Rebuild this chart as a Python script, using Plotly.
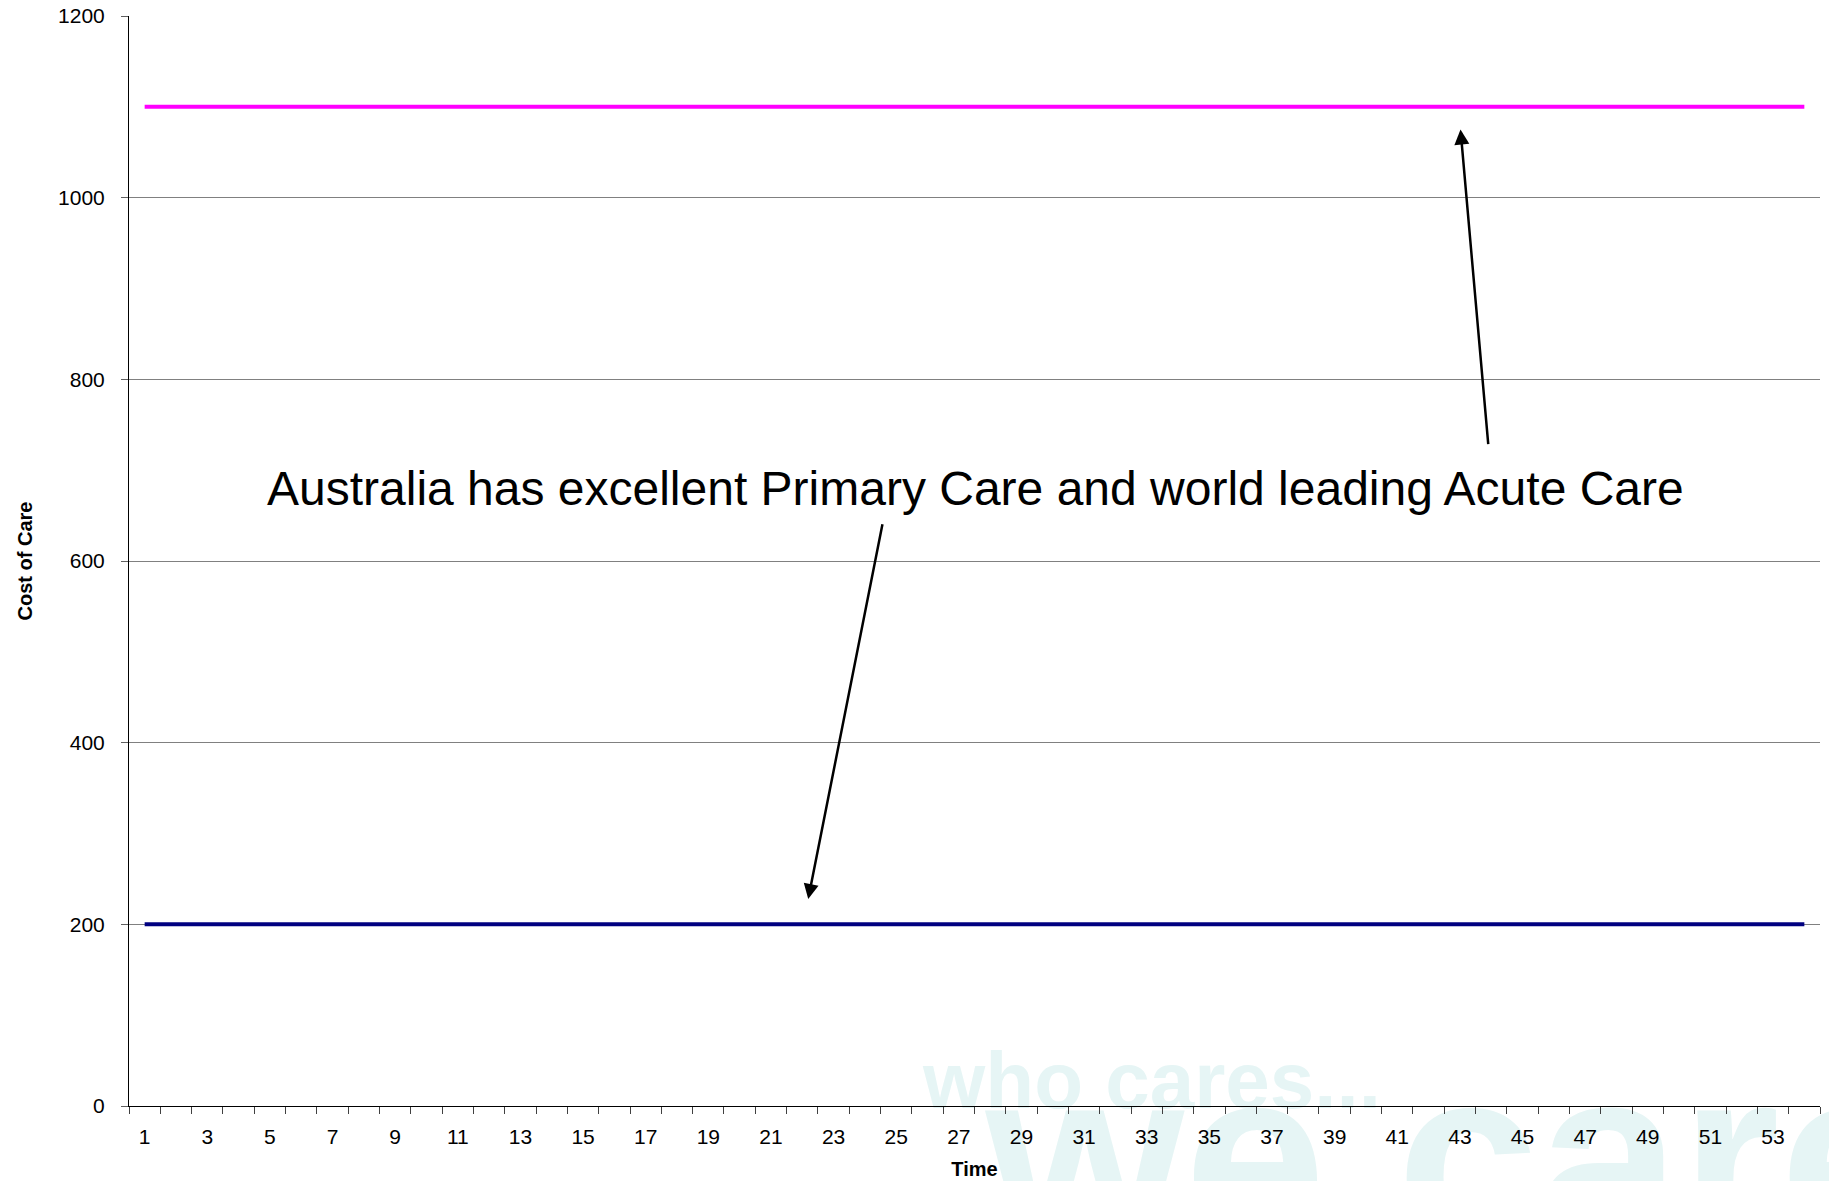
import plotly.graph_objects as go

# Time periods and cost-of-care series
periods = list(range(1, 55))
acute_care = [1100] * 54
primary_care = [200] * 54

x_tick_vals = list(range(1, 54, 2))
x_tick_text = [str(v) for v in x_tick_vals]
y_tick_vals = [0, 200, 400, 600, 800, 1000, 1200]

headline = "Australia has excellent Primary Care and world leading Acute Care"
headline_pos = (27.53, 680)
# arrow (head x, head y, tail x, tail y) in data units
arrow_acute = (43.02, 1075, 43.91, 727)
arrow_primary = (22.19, 228, 24.57, 642)

# watermark slogans and their anchor points (data units)
wm_lines = ["who cares...", "we care"]
wm_x = [33.17, 42.8]
wm_y = [20, 58]
wm_pos = ["middle center", "bottom center"]
wm_sizes = [80, 255]

FONT = "Liberation Sans, Arial, sans-serif"
WM_COLOR = "rgb(230,245,245)"

fig = go.Figure()
# faint watermark, drawn first so it sits beneath everything else
for text, x, y, pos, size in zip(wm_lines, wm_x, wm_y, wm_pos, wm_sizes):
    fig.add_trace(go.Scatter(x=[x], y=[y], mode="text", text=[f"<b>{text}</b>"],
                             textposition=pos, cliponaxis=False,
                             textfont=dict(size=size, family=FONT, weight="bold",
                                           color=WM_COLOR),
                             hoverinfo="skip", showlegend=False))
fig.add_trace(go.Scatter(x=periods, y=acute_care, mode="lines",
                         line=dict(color="#FF00FF", width=4), name="Acute Care",
                         showlegend=False))
fig.add_trace(go.Scatter(x=periods, y=primary_care, mode="lines",
                         line=dict(color="#000080", width=4), name="Primary Care",
                         showlegend=False))

fig.update_layout(
    width=1829, height=1181,
    margin=dict(l=129, r=9, t=16, b=75),
    paper_bgcolor="white", plot_bgcolor="white",
    font=dict(family=FONT, color="black"),
)

fig.update_xaxes(
    range=[0.5, 54.5], tickmode="array", tickvals=x_tick_vals, ticktext=x_tick_text,
    ticks="", showgrid=False, zeroline=False, automargin=False,
    showline=True, linecolor="black", linewidth=1,
    tickfont=dict(size=21, family=FONT), ticklabelstandoff=12,
    minor=dict(tickmode="linear", tick0=0.5, dtick=1, ticks="outside", ticklen=7,
               tickcolor="#404040", showgrid=False),
    title=dict(text="<b>Time</b>", font=dict(size=20, family=FONT), standoff=14),
)
fig.update_yaxes(
    range=[0, 1200], tickmode="array", tickvals=y_tick_vals,
    showgrid=True, gridcolor="#808080", gridwidth=1, zeroline=False, automargin=False,
    showline=True, linecolor="black", linewidth=1,
    ticks="outside", ticklen=7, tickcolor="#606060",
    tickfont=dict(size=21, family=FONT), ticklabelstandoff=12,
    title=dict(text="<b>Cost of Care</b>", font=dict(size=20, family=FONT), standoff=20),
)

fig.add_annotation(x=headline_pos[0], y=headline_pos[1], xref="x", yref="y",
                   text=headline, showarrow=False,
                   font=dict(size=48, family=FONT, color="black"))
for hx, hy, tx, ty in (arrow_acute, arrow_primary):
    fig.add_annotation(x=hx, y=hy, ax=tx, ay=ty, xref="x", yref="y",
                       axref="x", ayref="y", text="", showarrow=True,
                       arrowhead=2, arrowsize=1.2, arrowwidth=2.5, arrowcolor="black")

fig.write_html("out.html")
